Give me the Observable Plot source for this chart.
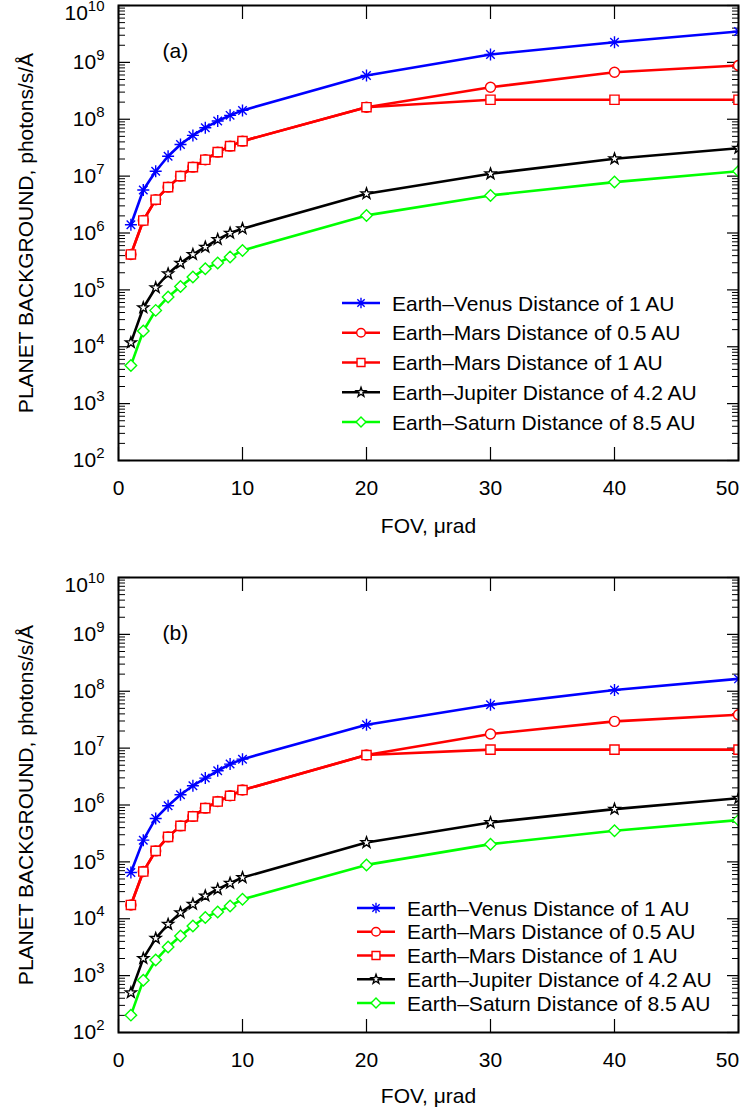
<!DOCTYPE html>
<html><head><meta charset="utf-8">
<script src="https://cdn.jsdelivr.net/npm/d3@7"></script>
<script src="https://cdn.jsdelivr.net/npm/@observablehq/plot@0.6"></script>
<style>
body{margin:0;background:#fff;}
#chart{width:740px;position:relative;}
#chart svg{display:block;}
</style>
</head><body><div id="chart"></div>
<script>
// ---- data ----
const fov = [1, 2, 3, 4, 5, 6, 7, 8, 9, 10, 20, 30, 40, 50];
const seriesNames = [
  "Earth–Venus Distance of 1 AU",
  "Earth–Mars Distance of 0.5 AU",
  "Earth–Mars Distance of 1 AU",
  "Earth–Jupiter Distance of 4.2 AU",
  "Earth–Saturn Distance of 8.5 AU"
];
const seriesColors = ["#0000ff", "#ff0000", "#ff0000", "#000000", "#00ff00"];
const seriesMarkers = ["asterisk", "circle", "square", "star", "diamond"];

// panel (a)
const venusA   = [1.4e6, 5.7e6, 1.22e7, 2.24e7, 3.6e7, 5.2e7, 7.1e7, 9.3e7, 1.17e8, 1.43e8, 5.9e8, 1.38e9, 2.26e9, 3.49e9];
const mars05A  = [4.2e5, 1.66e6, 3.85e6, 6.4e6, 1.0e7, 1.44e7, 1.94e7, 2.64e7, 3.37e7, 4.12e7, 1.63e8, 3.66e8, 6.7e8, 8.8e8];
const mars1A   = [4.2e5, 1.66e6, 3.85e6, 6.4e6, 1.0e7, 1.44e7, 1.94e7, 2.64e7, 3.37e7, 4.12e7, 1.63e8, 2.2e8, 2.2e8, 2.2e8];
const jupiterA = [1.18e4, 4.86e4, 1.09e5, 1.92e5, 2.96e5, 4.2e5, 5.65e5, 7.7e5, 9.96e5, 1.19e6, 4.9e6, 1.1e7, 2.02e7, 3.1e7];
const saturnA  = [4.7e3, 1.89e4, 4.36e4, 7.5e4, 1.15e5, 1.68e5, 2.36e5, 2.96e5, 3.77e5, 4.94e5, 2.04e6, 4.58e6, 7.85e6, 1.22e7];

// panel (b)
const venusB   = [6.5e4, 2.41e5, 5.8e5, 9.7e5, 1.51e6, 2.18e6, 2.97e6, 4.0e6, 5.24e6, 6.4e6, 2.58e7, 5.8e7, 1.05e8, 1.65e8];
const mars05B  = [1.75e4, 6.76e4, 1.56e5, 2.75e5, 4.3e5, 6.3e5, 8.8e5, 1.15e6, 1.45e6, 1.83e6, 7.56e6, 1.77e7, 2.95e7, 3.87e7];
const mars1B   = [1.75e4, 6.76e4, 1.56e5, 2.75e5, 4.3e5, 6.3e5, 8.8e5, 1.15e6, 1.45e6, 1.83e6, 7.56e6, 9.4e6, 9.4e6, 9.4e6];
const jupiterB = [500, 2.01e3, 4.53e3, 8.0e3, 1.28e4, 1.8e4, 2.52e4, 3.3e4, 4.22e4, 5.3e4, 2.19e5, 4.92e5, 8.46e5, 1.32e6];
const saturnB  = [202, 826, 1.88e3, 3.19e3, 4.98e3, 7.47e3, 1.05e4, 1.32e4, 1.68e4, 2.2e4, 8.85e4, 2.05e5, 3.52e5, 5.42e5];

const xTicks = [0, 10, 20, 30, 40, 50];
const yTicks = [1e2, 1e3, 1e4, 1e5, 1e6, 1e7, 1e8, 1e9, 1e10];
const minorMultipliers = [2, 3, 4, 5, 6, 7, 8, 9];
const xLabel = "FOV, μrad";
const yLabel = "PLANET BACKGROUND, photons/s/Å";
const panelLabels = ["(a)", "(b)"];

// ---- marker shapes ----
const symbols = {
  asterisk: {draw(c, s) { const r = Math.sqrt(s / Math.PI) * 1.2, d = r * Math.SQRT1_2;
    c.moveTo(0, -r); c.lineTo(0, r); c.moveTo(-r, 0); c.lineTo(r, 0);
    c.moveTo(-d, -d); c.lineTo(d, d); c.moveTo(-d, d); c.lineTo(d, -d); }},
  circle: {draw(c, s) { const r = Math.sqrt(s / Math.PI); c.moveTo(r, 0); c.arc(0, 0, r, 0, 2 * Math.PI); c.closePath(); }},
  square: {draw(c, s) { const r = Math.sqrt(s / Math.PI) * 0.92; c.rect(-r, -r, 2 * r, 2 * r); }},
  star: {draw(c, s) { const R = Math.sqrt(s / Math.PI) * 1.15, ri = R * 0.4;
    for (let k = 0; k < 10; k++) { const a = -Math.PI / 2 + k * Math.PI / 5, rr = k % 2 ? ri : R;
      const px = rr * Math.cos(a), py = rr * Math.sin(a); k ? c.lineTo(px, py) : c.moveTo(px, py); }
    c.closePath(); }},
  diamond: {draw(c, s) { const r = Math.sqrt(s / Math.PI) * 1.15;
    c.moveTo(0, -r); c.lineTo(r, 0); c.lineTo(0, r); c.lineTo(-r, 0); c.closePath(); }}
};

const yMinor = yTicks.slice(0, -1).flatMap(t => minorMultipliers.map(m => m * t));
const FONT = "'Liberation Sans', Arial, Helvetica, sans-serif";

function panel(cfg) {
  const marks = [];
  cfg.series.forEach((vals, si) => {
    const rows = fov.map((x, i) => ({fov: x, bg: vals[i]}));
    marks.push(Plot.line(rows, {x: "fov", y: "bg", stroke: seriesColors[si], strokeWidth: 2.6, clip: true}));
    marks.push(Plot.dot(rows, {x: "fov", y: "bg", r: 5, symbol: symbols[seriesMarkers[si]],
      stroke: seriesColors[si], fill: "white", strokeWidth: 1.4, clip: true}));
  });
  const svg = Plot.plot({
    width: 740, height: 558,
    marginLeft: 118, marginRight: 2, marginTop: cfg.mt, marginBottom: cfg.mb,
    style: {fontFamily: FONT, fontSize: "21px", background: "white", color: "black", overflow: "visible"},
    x: {domain: [0, 50]},
    y: {type: "log", domain: [1e2, 1e10]},
    marks: [
      Plot.axisY(yMinor, {anchor: "left", tickSize: -7, fill: "none", label: null, strokeWidth: 1}),
      Plot.axisY(yMinor, {anchor: "right", tickSize: -7, fill: "none", label: null, strokeWidth: 1}),
      Plot.axisY(yTicks, {anchor: "left", tickSize: -12, fill: "none", label: null, strokeWidth: 1.2}),
      Plot.axisY(yTicks, {anchor: "right", tickSize: -12, fill: "none", label: null, strokeWidth: 1.2}),
      Plot.axisY(yTicks, {anchor: "left", tickSize: 0, tickPadding: 14, label: null, fontSize: 21,
        tickFormat: d => "10^" + Math.round(Math.log10(d))}),
      Plot.axisX(xTicks, {anchor: "bottom", tickSize: -13, fill: "none", label: null, strokeWidth: 1.2}),
      Plot.axisX(xTicks, {anchor: "top", tickSize: -13, fill: "none", label: null, strokeWidth: 1.2}),
      Plot.axisX(xTicks, {anchor: "bottom", tickSize: 0, tickPadding: 20, label: null, fontSize: 21}),
      ...marks,
      Plot.frame({stroke: "black", strokeWidth: 2}),
      Plot.text([cfg.label], {frameAnchor: "top-left", text: d => d, dx: 44, dy: cfg.labelDy, textAnchor: "start", fontSize: 21}),
      Plot.text([yLabel], {frameAnchor: "left", text: d => d, rotate: -90, dx: -92, dy: 0,
        textAnchor: "middle", lineAnchor: "middle", fontSize: 21}),
      Plot.text([xLabel], {frameAnchor: "bottom", text: d => d, dy: cfg.xLabelDy, textAnchor: "middle", fontSize: 21})
    ]
  });
  // superscript exponents on y tick labels
  svg.querySelectorAll('g[aria-label="y-axis tick label"] text').forEach(t => {
    const m = t.textContent.match(/^10\^(\d+)$/);
    if (!m) return;
    t.textContent = "10";
    const ts = document.createElementNS("http://www.w3.org/2000/svg", "tspan");
    ts.setAttribute("font-size", "15");
    ts.setAttribute("dy", "-9");
    ts.textContent = m[1];
    t.appendChild(ts);
    if (m[1] === "10") t.setAttribute("y", 14); // top label sits just below the frame edge
  });
  // keep the last x tick label inside the picture
  const xl = svg.querySelectorAll('g[aria-label="x-axis tick label"] text');
  if (xl.length) xl[xl.length - 1].setAttribute("dx", "-11");
  // legend
  const g = d3.select(svg).append("g").attr("font-family", FONT).attr("font-size", 21).attr("text-anchor", "start");
  seriesNames.forEach((name, i) => {
    const y = cfg.legY + i * cfg.legDy, x0 = cfg.legX;
    g.append("line").attr("x1", x0).attr("x2", x0 + 38).attr("y1", y).attr("y2", y)
      .attr("stroke", seriesColors[i]).attr("stroke-width", 2.6);
    const p = d3.path(); symbols[seriesMarkers[i]].draw(p, Math.PI * 4.3 * 4.3);
    g.append("path").attr("d", p.toString()).attr("transform", `translate(${x0 + 19},${y})`)
      .attr("fill", "white").attr("stroke", seriesColors[i]).attr("stroke-width", 1.4);
    g.append("text").attr("x", x0 + 50).attr("y", y).attr("dy", "0.36em").attr("fill", "black")
      .attr("text-anchor", "start").text(name);
  });
  return svg;
}

const chart = document.getElementById("chart");
chart.appendChild(panel({series: [venusA, mars05A, mars1A, jupiterA, saturnA], mt: 5, mb: 98,
  label: panelLabels[0], labelDy: 37.5, xLabelDy: 72.5, legX: 342, legY: 303, legDy: 29.75}));
chart.appendChild(panel({series: [venusB, mars05B, mars1B, jupiterB, saturnB], mt: 19, mb: 84,
  label: panelLabels[1], labelDy: 48, xLabelDy: 70, legX: 357, legY: 350, legDy: 23.75}));
</script>
</body></html>
